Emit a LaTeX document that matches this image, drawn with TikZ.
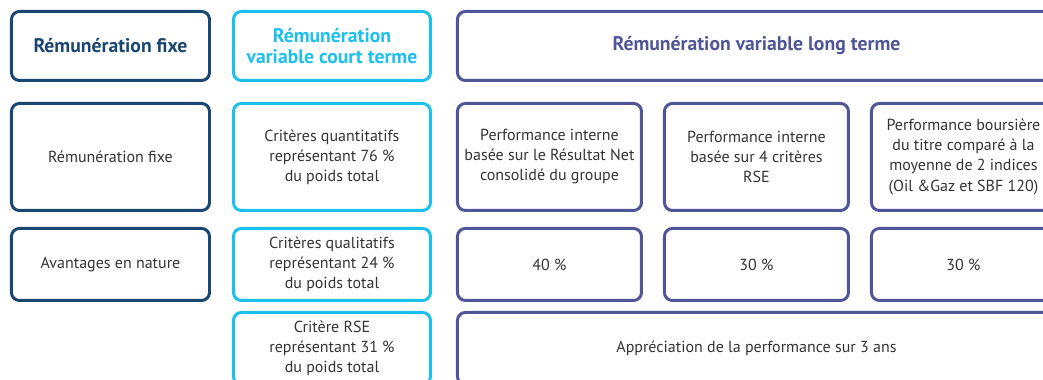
\documentclass[tikz,border=0pt]{standalone}
\usepackage{fontspec}
\setmainfont{PT Sans}
\usepackage{tikz}
\usetikzlibrary{positioning}
\definecolor{cFixLine}{HTML}{1A4672}
\definecolor{cCtLine}{HTML}{1CC0EC}
\definecolor{cLtLine}{HTML}{4F5596}
\definecolor{cBody}{HTML}{333333}

\begin{document}
\begin{tikzpicture}[
  cell/.style={draw, line width=1.7pt, rounded corners=4.5pt, align=center,
               inner sep=2pt, text=cBody, font=\fontsize{9.1}{11.4}\selectfont},
  head/.style={cell, minimum height=1.38cm, font=\fontsize{11.2}{12.2}\selectfont\bfseries},
  fixc/.style={draw=cFixLine, minimum width=3.96cm},
  ctc/.style={draw=cCtLine, minimum width=3.94cm},
  ltc/.style={draw=cLtLine, minimum width=3.68cm},
  rowA/.style={minimum height=2.14cm},
  rowB/.style={minimum height=1.44cm}
]
\clip (0,0) rectangle (20.86,-7.6);

% headers
\node[head, fixc, text=cFixLine, anchor=north west] (fixHead) at (0.2,-0.2) {Rémunération fixe};
\node[head, ctc, text=cCtLine, right=0.42cm of fixHead] (ctHead) {Rémunération\\variable court terme};
\node[head, ltc, text=cLtLine, minimum width=11.96cm, right=0.48cm of ctHead] (ltHead) {Rémunération variable long terme};

% second row
\node[cell, fixc, rowA, below=0.4cm of fixHead] (fixBase) {Rémunération fixe};
\node[cell, ctc, rowA, below=0.4cm of ctHead] (ctQuanti) {Critères quantitatifs\\représentant 76~\%\\du poids total};
\node[cell, ltc, rowA, below right=0.4cm and 0cm of ltHead.south west] (ltNet)
  {Performance interne\\basée sur le Résultat Net\\consolidé du groupe};
\node[cell, ltc, rowA, right=0.4cm of ltNet] (ltRse) {Performance interne\\basée sur 4 critères\\RSE};
\node[cell, ltc, rowA, right=0.4cm of ltRse] (ltBourse)
  {Performance boursière\\du titre comparé à la\\moyenne de 2 indices\\(Oil \&Gaz et SBF 120)};

% third row
\node[cell, fixc, rowB, below=0.3cm of fixBase] (fixNature) {Avantages en nature};
\node[cell, ctc, rowB, below=0.3cm of ctQuanti] (ctQuali) {Critères qualitatifs\\représentant 24~\%\\du poids total};
\node[cell, ltc, rowB, below=0.3cm of ltNet] (ltNetPct) {40~\%};
\node[cell, ltc, rowB, below=0.3cm of ltRse] (ltRsePct) {30~\%};
\node[cell, ltc, rowB, below=0.3cm of ltBourse] (ltBoursePct) {30~\%};

% fourth row
\node[cell, ctc, rowB, below=0.18cm of ctQuali] (ctRse) {Critère RSE\\représentant 31~\%\\du poids total};
\node[cell, draw=cLtLine, rowB, minimum width=11.96cm, below right=0.18cm and 0cm of ltNetPct.south west] (ltDuree)
  {Appréciation de la performance sur 3 ans};
\end{tikzpicture}
\end{document}
